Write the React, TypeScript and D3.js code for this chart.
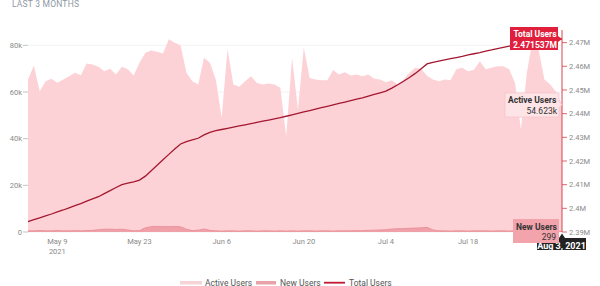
import { useEffect } from "react";
import * as d3 from "d3";

const startDate = "2021-05-04";

// Active users per day (thousands), May 4 -> Aug 3
const activeUsers = [
  65.4, 71.4, 60.3, 64.6, 65.7, 64.0, 65.4, 66.8, 68.2, 67.2, 72.2, 71.8, 70.8,
  68.9, 70.0, 67.5, 70.8, 69.7, 67.1, 72.5, 76.8, 77.8, 77.2, 76.5, 82.6, 81.1,
  80.0, 68.2, 64.6, 63.2, 74.7, 72.5, 65.4, 49.0, 78.3, 63.2, 62.2, 64.6, 66.8,
  63.9, 63.2, 63.6, 63.2, 61.8, 41.0, 74.7, 52.5, 79.0, 66.0, 65.4, 65.0, 65.0,
  69.4, 67.5, 68.5, 67.1, 67.5, 66.8, 67.5, 65.7, 65.4, 64.2, 65.0, 63.2, 65.4,
  68.2, 70.4, 70.0, 67.0, 65.4, 64.6, 65.4, 65.0, 69.7, 70.4, 68.9, 69.5, 73.2,
  69.7, 70.4, 71.0, 71.0, 69.7, 63.9, 43.9, 68.0, 82.6, 78.3, 65.4, 63.2, 60.0,
  54.623,
];

// New users per day (thousands)
const newUsers = [
  0.5, 0.5, 0.6, 0.5, 0.5, 0.6, 0.5, 0.5, 0.6, 0.5, 0.6, 0.7, 1.0, 1.2, 1.2, 1.1,
  1.2, 0.9, 0.5, 0.6, 1.8, 2.3, 2.4, 2.3, 2.3, 2.4, 2.2, 1.2, 0.6, 0.8, 1.3, 0.7,
  0.5, 0.4, 0.5, 0.5, 0.4, 0.5, 0.5, 0.4, 0.5, 0.5, 0.4, 0.5, 0.4, 0.5, 0.4, 0.5,
  0.5, 0.4, 0.5, 0.5, 0.4, 0.5, 0.5, 0.5, 0.6, 0.6, 0.7, 0.8, 0.9, 1.0, 1.3, 1.4,
  1.5, 1.6, 1.7, 1.8, 2.0, 0.9, 0.5, 0.5, 0.4, 0.5, 0.5, 0.4, 0.5, 0.5, 0.5, 0.4,
  0.5, 0.5, 0.4, 0.5, 0.4, 0.5, 0.5, 0.4, 0.5, 0.4, 0.4, 0.299,
];

// Total users (millions)
const totalUsers = [
  2.3944, 2.3952, 2.396, 2.3968, 2.3976, 2.3985, 2.3993, 2.4002, 2.4011, 2.402,
  2.403, 2.404, 2.4049, 2.4062, 2.4075, 2.4088, 2.41, 2.4106, 2.4112, 2.4119,
  2.4136, 2.4159, 2.4182, 2.4205, 2.4228, 2.4251, 2.4272, 2.4282, 2.4289,
  2.4296, 2.431, 2.4321, 2.4328, 2.4333, 2.4338, 2.4343, 2.4348, 2.4353,
  2.4358, 2.4363, 2.4368, 2.4373, 2.4378, 2.4383, 2.4389, 2.4395, 2.4401,
  2.4407, 2.4413, 2.4419, 2.4425, 2.4431, 2.4437, 2.4443, 2.4449, 2.4455,
  2.4461, 2.4467, 2.4474, 2.4481, 2.4488, 2.4495, 2.4508, 2.4522, 2.4537,
  2.4553, 2.457, 2.459, 2.461, 2.4617, 2.4622, 2.4627, 2.4632, 2.4637, 2.4642,
  2.4648, 2.4653, 2.4658, 2.4664, 2.4669, 2.4675, 2.468, 2.4685, 2.4689,
  2.4693, 2.4697, 2.4701, 2.4705, 2.4708, 2.4711, 2.4714, 2.471537,
];

const xTickDates = ["2021-05-09", "2021-05-23", "2021-06-06", "2021-06-20", "2021-07-04", "2021-07-18"];
const leftTicks = [0, 20, 40, 60, 80];
const rightTicks = [2.39, 2.4, 2.41, 2.42, 2.43, 2.44, 2.45, 2.46, 2.47];

const parse = d3.timeParse("%Y-%m-%d");
const fmtTick = d3.timeFormat("%b %-d");

export default function App() {
  useEffect(() => {
    document.body.style.margin = "0";
  }, []);

  const width = 600;
  const height = 286;
  const left = 28;
  const right = 562;
  const top = 36;
  const bottom = 232;

  const start = parse(startDate)!;
  const dates = activeUsers.map((_, i) => d3.timeDay.offset(start, i));

  const x = d3.scaleTime().domain([dates[0], dates[dates.length - 1]]).range([left, right]);
  const yL = d3.scaleLinear().domain([0, 84]).range([bottom, top]);
  const yR = d3.scaleLinear().domain([2.39, 2.4728]).range([bottom, top]);

  const areaActive = d3
    .area<number>()
    .x((_, i) => x(dates[i]))
    .y0(bottom)
    .y1((d) => yL(d));
  const lineNew = d3
    .line<number>()
    .x((_, i) => x(dates[i]))
    .y((d) => yL(d));
  const lineTotal = d3
    .line<number>()
    .x((_, i) => x(dates[i]))
    .y((d) => yR(d));

  const font = "Roboto, 'Open Sans', sans-serif";
  const gray = "#8a8a8a";
  const last = dates.length - 1;
  const px = x(dates[last]);
  const pTotal = yR(totalUsers[last]);
  const pActive = yL(activeUsers[last]);

  return (
    <svg width={width} height={height} style={{ display: "block", fontFamily: font }}>
      <text x={12} y={7} fontSize={8.5} fill="#8e98a3" letterSpacing={0.2}>
        LAST 3 MONTHS
      </text>

      {/* grid */}
      {leftTicks.map((t) => (
        <line key={t} x1={left} x2={right} y1={yL(t)} y2={yL(t)} stroke="#eeeeee" strokeWidth={0.8} />
      ))}

      <path d={areaActive(activeUsers) ?? ""} fill="#fdd2d6" />
      <path d={areaActive(newUsers) ?? ""} fill="#f0a0a8" />
      <path d={lineNew(newUsers) ?? ""} fill="none" stroke="#e88a94" strokeWidth={0.8} />
      <path d={lineTotal(totalUsers) ?? ""} fill="none" stroke="#a31830" strokeWidth={1.3} />

      {/* left axis */}
      {leftTicks.map((t) => (
        <g key={t}>
          <line x1={23} x2={left} y1={yL(t)} y2={yL(t)} stroke="#aaa" strokeWidth={0.7} />
          <text x={22} y={yL(t)} dy="0.35em" textAnchor="end" fontSize={7.5} fill={gray}>
            {t === 0 ? "0" : `${t}k`}
          </text>
        </g>
      ))}

      {/* right axis */}
      <line x1={right} x2={right} y1={top - 6} y2={bottom} stroke="#d9424f" strokeWidth={1} />
      {rightTicks.map((t) => (
        <g key={t}>
          <line x1={right} x2={right + 5} y1={yR(t)} y2={yR(t)} stroke="#d9424f" strokeWidth={0.8} />
          <text x={right + 7} y={yR(t)} dy="0.35em" fontSize={7.5} fill={gray}>
            {`${+t.toFixed(2)}M`}
          </text>
        </g>
      ))}

      {/* x axis labels */}
      {xTickDates.map((s, i) => {
        const d = parse(s)!;
        return (
          <g key={s}>
            <text x={x(d)} y={244} textAnchor="middle" fontSize={7.5} fill={gray}>
              {fmtTick(d)}
            </text>
            {i === 0 && (
              <text x={x(d)} y={254} textAnchor="middle" fontSize={7.5} fill={gray}>
                2021
              </text>
            )}
          </g>
        );
      })}

      {/* tooltips */}
      <path
        d={`M510,27 H558 V${pTotal - 3} L${px},${pTotal} L558,${pTotal + 3} V50 H510 Z`}
        fill="#e01f3d"
      />
      <text x={535} y={37} textAnchor="middle" fontSize={8.5} fontWeight="bold" fill="#fff">
        Total Users
      </text>
      <text x={557} y={47.5} textAnchor="end" fontSize={8.5} fontWeight="bold" fill="#fff">
        2.471537M
      </text>

      <path
        d={`M505,93 H559 V${pActive - 3} L${px},${pActive} L559,${pActive + 3} V117 H505 Z`}
        fill="#fde4e6"
        stroke="#f3c3c8"
        strokeWidth={0.7}
      />
      <text x={508} y={103} fontSize={8.5} fontWeight="bold" fill="#333">
        Active Users
      </text>
      <text x={557} y={114} textAnchor="end" fontSize={8.5} fill="#333">
        54.623k
      </text>

      <path d={`M537,238 H${px - 3} L${px},233.5 L${px + 3},238 H586 V250 H537 Z`} fill="#222" />
      <text x={561.5} y={248.5} textAnchor="middle" fontSize={9} fontWeight="bold" fill="#fff">
        Aug 3, 2021
      </text>

      <rect x={513} y={219} width={46} height={24} fill="#f2a3ab" />
      <text x={516} y={229.5} fontSize={8.5} fontWeight="bold" fill="#333">
        New Users
      </text>
      <text x={556} y={240} textAnchor="end" fontSize={8.5} fill="#333">
        299
      </text>

      {/* legend */}
      <rect x={180} y={281} width={22} height={3.5} fill="#f6d3d6" />
      <text x={205} y={285.5} fontSize={8.5} fill="#555">
        Active Users
      </text>
      <rect x={256} y={281} width={20} height={3.5} fill="#e8a2aa" />
      <text x={280} y={285.5} fontSize={8.5} fill="#555">
        New Users
      </text>
      <line x1={324} x2={345} y1={282.7} y2={282.7} stroke="#c21a33" strokeWidth={1.8} />
      <text x={349} y={285.5} fontSize={8.5} fill="#555">
        Total Users
      </text>
    </svg>
  );
}
